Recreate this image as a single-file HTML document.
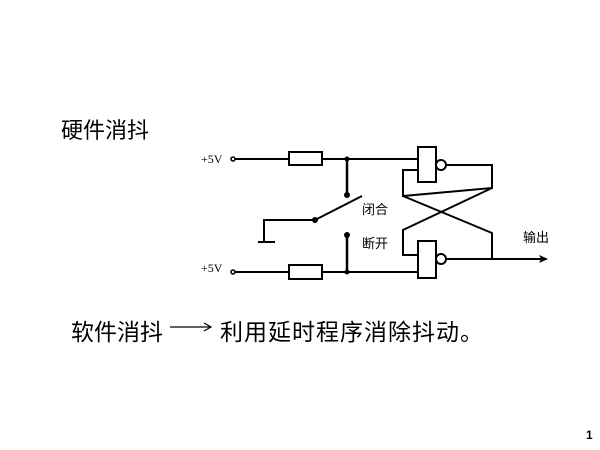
<!DOCTYPE html>
<html><head><meta charset="utf-8"><style>
html,body{margin:0;padding:0;background:#fff;}
body{width:600px;height:450px;position:relative;overflow:hidden;font-family:"Liberation Sans","Noto Sans CJK SC",sans-serif;}
.t{position:absolute;white-space:nowrap;color:#000;}
</style></head><body>
<div class="t" style="left:61px;top:113px;font-size:22px;">硬件消抖</div>
<div class="t" style="left:71px;top:313px;font-size:23px;">软件消抖</div>
<div class="t" style="left:220px;top:313px;font-size:23px;letter-spacing:1px;">利用延时程序消除抖动。</div>
<div class="t" style="left:586px;top:428px;font-size:12px;font-weight:bold;">1</div>
<svg width="600" height="450" style="position:absolute;left:0;top:0">
<g stroke="#000" stroke-width="2" fill="none">
<line x1="170" y1="327" x2="210" y2="327" stroke-width="1.2"/>
<polyline points="204,323 211,327 204,331" stroke-width="1.2"/>
<!-- top -->
<line x1="233" y1="159" x2="289" y2="159"/>
<rect x="289" y="152" width="33" height="13"/>
<line x1="322" y1="159" x2="418" y2="159"/>
<rect x="418" y="147" width="18" height="35"/>
<circle cx="441" cy="165" r="5"/>
<polyline points="446,165 492,165 492,188 403,196 403,170 418,170"/>
<!-- bottom -->
<line x1="233" y1="272" x2="289" y2="272"/>
<rect x="289" y="265" width="33" height="14"/>
<line x1="322" y1="272" x2="418" y2="272"/>
<rect x="418" y="241" width="18" height="37"/>
<circle cx="441" cy="259" r="5"/>
<polyline points="446,259 546,259"/>
<polyline points="492,259 492,233 403,196"/>
<polyline points="492,188 403,230 403,255 418,255"/>
<!-- switch -->
<line x1="347" y1="159" x2="347" y2="195" stroke-width="2.5"/>
<line x1="347" y1="235" x2="347" y2="272" stroke-width="2.5"/>
<line x1="315" y1="220" x2="362" y2="196"/>
<polyline points="315,220 264,220 264,242"/>
<line x1="258" y1="242" x2="275" y2="242"/>
</g>
<g fill="#000">
<circle cx="347" cy="195" r="3"/><circle cx="347" cy="235" r="3"/><circle cx="315" cy="220" r="3"/>
<circle cx="347" cy="159" r="2.5"/><circle cx="347" cy="272" r="2.5"/>
<polygon points="548,259 539,255 541,259 539,263"/>
</g>
<circle cx="233" cy="159" r="2" fill="#fff" stroke="#000" stroke-width="1.5"/>
<circle cx="233" cy="272" r="2" fill="#fff" stroke="#000" stroke-width="1.5"/>
<g font-family="Liberation Serif,serif" font-size="12">
<text x="201" y="163">+5V</text><text x="201" y="272">+5V</text>
</g>
<g font-family="Liberation Sans,Noto Sans CJK SC,sans-serif" font-size="13">
<text x="362" y="214">闭合</text><text x="362" y="248">断开</text><text x="523" y="242">输出</text>
</g>
</svg>
</body></html>
